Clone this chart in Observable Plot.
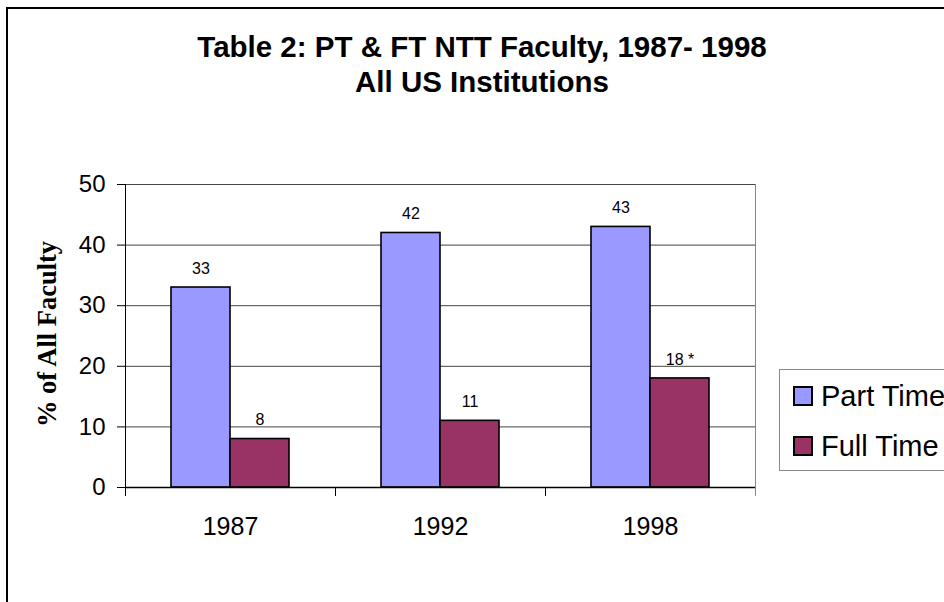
<!DOCTYPE html>
<html>
<head>
<meta charset="utf-8">
<script src="https://cdn.jsdelivr.net/npm/d3@7"></script>
<script src="https://cdn.jsdelivr.net/npm/@observablehq/plot@0.6"></script>
<style>
  html, body { margin: 0; padding: 0; background: #fff; overflow: hidden; width: 944px; height: 602px; }
  #wrap { position: relative; width: 944px; height: 602px; overflow: hidden; font-family: "Liberation Sans", Arial, sans-serif; }
  #border { position: absolute; left: 6px; top: 7px; width: 1100px; height: 800px; border-left: 2px solid #000; border-top: 2px solid #000; }
  #title { position: absolute; left: 0; top: 29px; width: 964px; text-align: center; font-weight: bold; font-size: 29.5px; line-height: 35px; color: #000; }
  #ylabel { position: absolute; left: 47px; top: 334px; transform: translate(-50%, -50%) rotate(-90deg); white-space: nowrap; font-family: "Liberation Serif", "Times New Roman", serif; font-weight: bold; font-size: 26.5px; color: #000; }
  #legend { position: absolute; left: 779px; top: 369px; width: 200px; height: 100px; border: 1px solid #888; background: #fff; }
  .item { position: absolute; left: 13px; height: 30px; display: flex; align-items: center; font-size: 29px; white-space: nowrap; }
  .sw { width: 16px; height: 16px; border: 2px solid #000; margin-right: 8px; }
  #chart { position: absolute; left: 0; top: 0; }
</style>
</head>
<body>
<div id="wrap">
  <div id="border"></div>
  <div id="chart"></div>
  <div id="title"></div>
  <div id="ylabel"></div>
  <div id="legend"></div>
</div>
<script>
// ---- data ----
const years = ["1987", "1992", "1998"];
const series = ["Part Time", "Full Time"];
const partTime = [33, 42, 43];
const fullTime = [8, 11, 18];
const fullTimeNotes = ["", "", " *"];
const yTicks = [0, 10, 20, 30, 40, 50];
const titleLines = ["Table 2: PT & FT NTT Faculty, 1987- 1998", "All US Institutions"];
const yLabel = "% of All Faculty";

const colors = ["#9999ff", "#993366"];

const rows = [];
years.forEach((yr, i) => {
  rows.push({year: yr, series: series[0], value: partTime[i], label: String(partTime[i])});
  rows.push({year: yr, series: series[1], value: fullTime[i], label: String(fullTime[i]) + fullTimeNotes[i]});
});

const W = 944, H = 602;
const mL = 124, mT = 184, mR = 188, mB = 115;
const plotH = H - mT - mB;

const chart = Plot.plot({
  width: W,
  height: H,
  marginLeft: mL,
  marginTop: mT,
  marginRight: mR,
  marginBottom: mB,
  style: {background: "transparent", fontFamily: "'Liberation Sans', Arial, sans-serif", color: "#000", overflow: "visible"},
  fx: {domain: years, padding: 0, axis: null},
  x: {domain: series, paddingInner: 0, paddingOuter: 0.755, axis: null},
  y: {domain: [0, 50], axis: null},
  color: {domain: series, range: colors},
  marks: [
    Plot.gridY(yTicks, {stroke: "#444", strokeOpacity: 1, strokeWidth: 1}),
    Plot.frame({anchor: "right", facetAnchor: "right", stroke: "#888", insetBottom: -8}),
    Plot.frame({anchor: "left", stroke: "#000", insetTop: plotH, insetBottom: -8}),
    Plot.frame({anchor: "left", facetAnchor: "left", stroke: "#000", insetBottom: -8}),
    Plot.barY(rows, {fx: "year", x: "series", y: "value", fill: "series", stroke: "#000", strokeWidth: 1.6}),
    Plot.ruleY([0], {stroke: "#000", strokeWidth: 1.3}),
    Plot.text(rows, {fx: "year", x: "series", y: "value", text: "label", dy: -19, fontSize: 16, fill: "#000"}),
    Plot.axisY({ticks: yTicks, tickSize: 8, tickPadding: 12, fontSize: 24, label: null, tickFormat: d => String(d)}),
    Plot.axisFx({anchor: "bottom", tickSize: 0, tickPadding: 30, fontSize: 25, label: null})
  ]
});
document.getElementById("chart").appendChild(chart);

// title
document.getElementById("title").innerHTML = titleLines.map(t => `<div>${t.replace(/&/g, "&amp;")}</div>`).join("");
document.getElementById("ylabel").textContent = yLabel;

// legend
const legend = document.getElementById("legend");
series.forEach((s, i) => {
  const it = document.createElement("div");
  it.className = "item";
  it.style.top = (i === 0 ? 11 : 61) + "px";
  const sw = document.createElement("div");
  sw.className = "sw";
  sw.style.background = colors[i];
  it.appendChild(sw);
  const tx = document.createElement("span");
  tx.textContent = s;
  it.appendChild(tx);
  legend.appendChild(it);
});
</script>
</body>
</html>
